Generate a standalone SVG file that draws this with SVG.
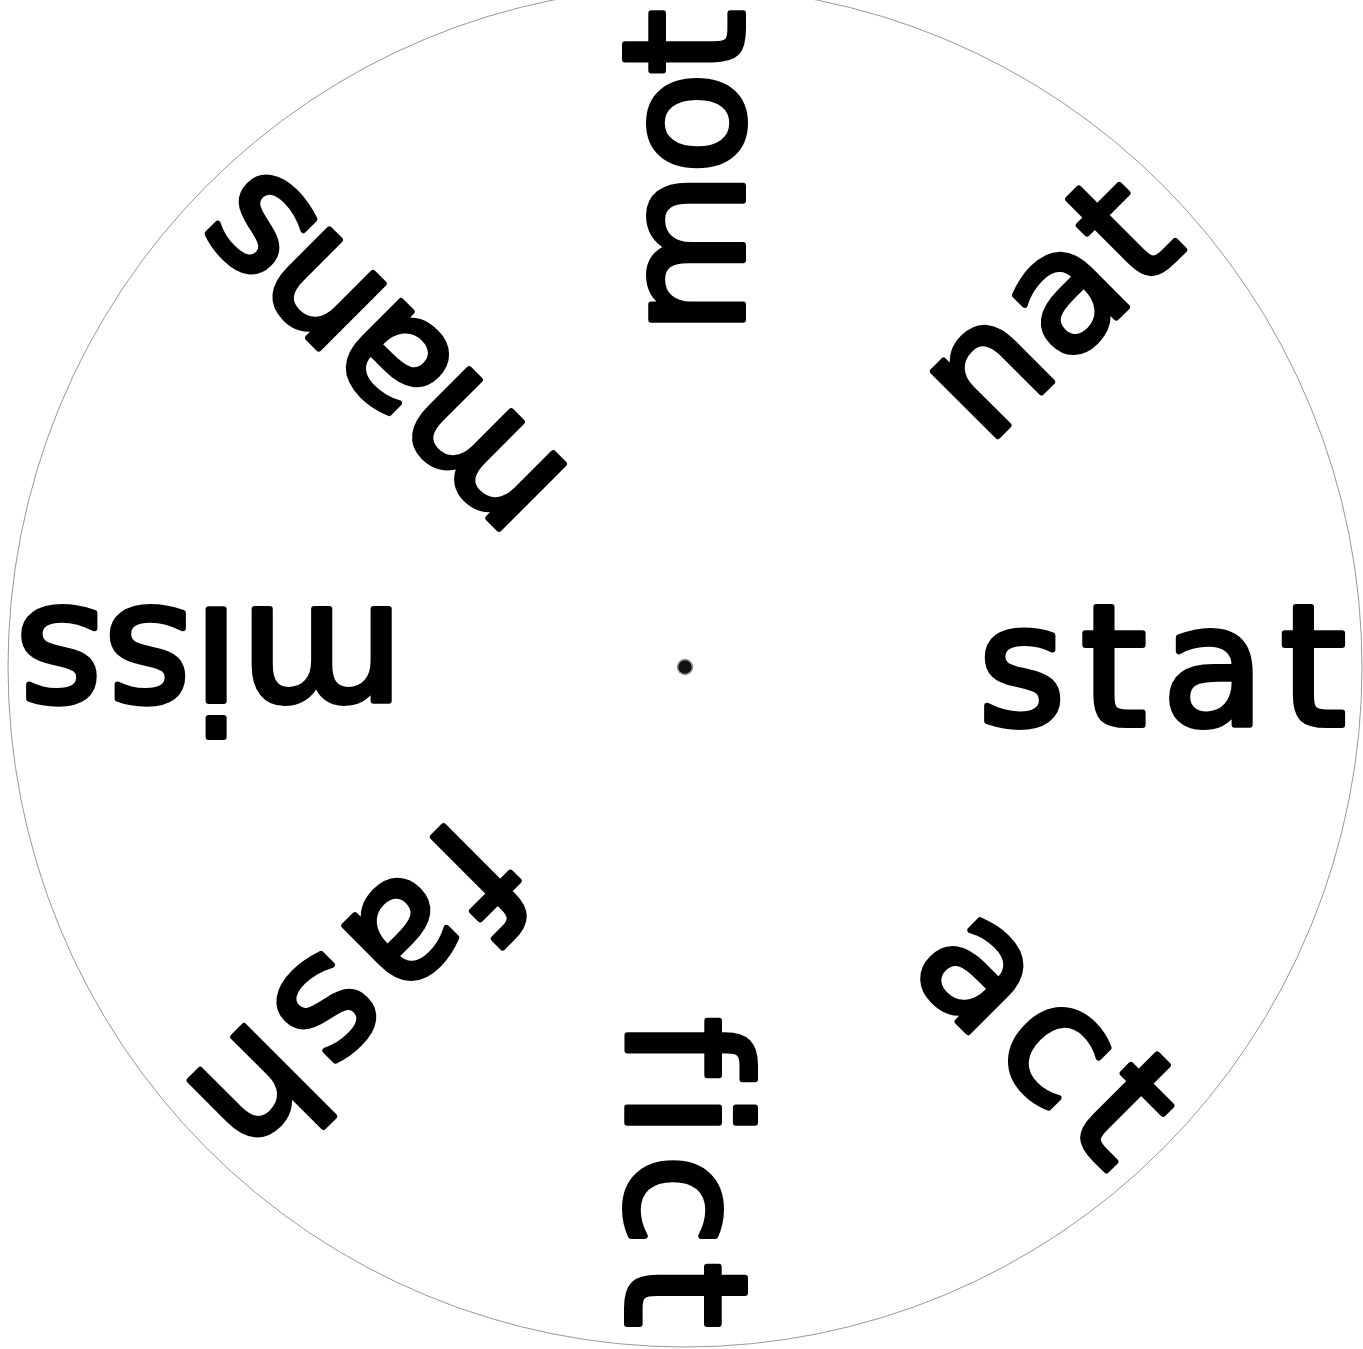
<svg xmlns="http://www.w3.org/2000/svg" width="1363" height="1349" viewBox="0 0 1363 1349">
<style>
.w{font-family:"DejaVu Sans",sans-serif;font-size:168px;fill:#000;stroke:#000;stroke-width:6;stroke-linejoin:round;text-anchor:end;font-variant-ligatures:none;font-feature-settings:"liga" 0,"clig" 0}
</style>
<rect width="1363" height="1349" fill="#fff"/>
<g id="wheel">
<ellipse cx="685" cy="667" rx="677" ry="680" fill="#fff" stroke="#999" stroke-width="1"/>
<circle cx="685" cy="667" r="7.5" fill="#111" stroke="#999" stroke-width="1.5"/>
</g>
<g id="word-stat"><text class="w" x="1346" y="725" textLength="368" lengthAdjust="spacing" transform="rotate(0 685 667)">stat</text></g>
<g id="word-act"><text class="w" x="1343" y="725" textLength="287" lengthAdjust="spacing" transform="rotate(45 685 667)">act</text></g>
<g id="word-fict"><text class="w" x="1346" y="725" textLength="311" lengthAdjust="spacing" transform="rotate(90 685 667)">fict</text></g>
<g id="word-fash"><text class="w" x="1342" y="725" textLength="392" lengthAdjust="spacing" transform="rotate(135 685 667)">fash</text></g>
<g id="word-miss"><text class="w" x="1354" y="725" textLength="388" lengthAdjust="spacing" transform="rotate(180 685 667)">miss</text></g>
<g id="word-mans"><text class="w" x="1342" y="725" textLength="443" lengthAdjust="spacing" transform="rotate(225 685 667)">mans</text></g>
<g id="word-mot"><text class="w" x="1343" y="725" textLength="326" lengthAdjust="spacing" transform="rotate(270 685 667)">mot</text></g>
<g id="word-nat"><text class="w" x="1337" y="725" textLength="283" lengthAdjust="spacing" transform="rotate(315 685 667)">nat</text></g>
<g id="connectors"></g>
</svg>
